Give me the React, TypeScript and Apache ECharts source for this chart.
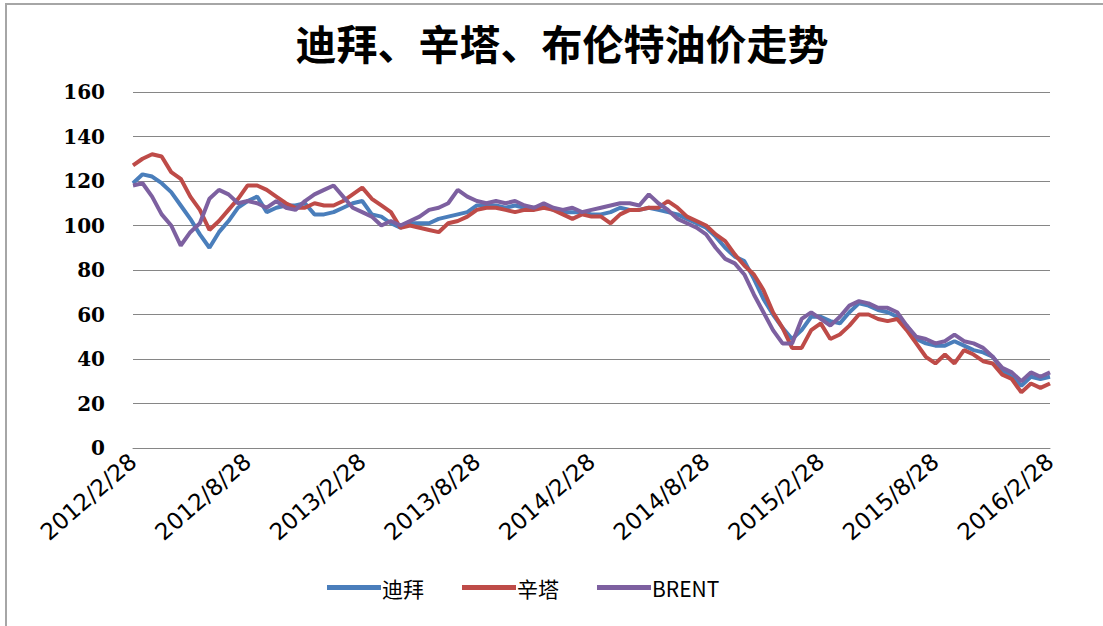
import React, { useEffect, useRef } from "react";
import * as echarts from "echarts";

const TITLE = "迪拜、辛塔、布伦特油价走势";
const SERIES_NAMES = ["迪拜", "辛塔", "BRENT"];
const TICK_LABELS = [
  "2012/2/28", "2012/8/28", "2013/2/28", "2013/8/28", "2014/2/28",
  "2014/8/28", "2015/2/28", "2015/8/28", "2016/2/28",
];
// half-month sampling between tick labels (12 points per 6 months)
const POINTS_PER_TICK = 12;
const Y_TICKS = [0, 20, 40, 60, 80, 100, 120, 140, 160];

const dubai = [
  119, 123, 122, 119, 115, 109, 103, 96, 90, 97, 102, 108,
  111, 113, 106, 108, 109, 109, 110, 105, 105, 106, 108, 110,
  111, 105, 104, 101, 99, 101, 101, 101, 103, 104, 105, 106,
  109, 109, 109, 108, 109, 108, 108, 109, 107, 106, 106, 106,
  105, 105, 106, 108, 107, 107, 108, 107, 106, 105, 103, 101,
  99, 95, 90, 86, 84, 76, 67, 60, 54, 49, 53, 59,
  59, 57, 56, 61, 65, 64, 62, 61, 59, 55, 49, 47,
  46, 46, 48, 46, 44, 43, 41, 35, 32, 28, 32, 31,
  32,
];
const cinta = [
  127, 130, 132, 131, 124, 121, 113, 107, 98, 102, 107, 112,
  118, 118, 116, 113, 110, 108, 108, 110, 109, 109, 111, 114,
  117, 112, 109, 106, 99, 100, 99, 98, 97, 101, 102, 104,
  107, 108, 108, 107, 106, 107, 107, 108, 107, 105, 103, 105,
  104, 104, 101, 105, 107, 107, 108, 108, 111, 108, 104, 102,
  100, 96, 93, 87, 82, 78, 71, 61, 54, 45, 45, 53,
  56, 49, 51, 55, 60, 60, 58, 57, 58, 53, 47, 41,
  38, 42, 38, 44, 42, 39, 38, 33, 31, 25, 29, 27,
  29,
];
const brent = [
  118, 119, 113, 105, 100, 91, 97, 101, 112, 116, 114, 110,
  111, 110, 108, 111, 108, 107, 111, 114, 116, 118, 113, 108,
  106, 104, 100, 102, 100, 102, 104, 107, 108, 110, 116, 113,
  111, 110, 111, 110, 111, 109, 108, 110, 108, 107, 108, 106,
  107, 108, 109, 110, 110, 109, 114, 110, 107, 103, 101, 99,
  96, 90, 85, 83, 78, 69, 61, 53, 47, 47, 58, 61,
  58, 55, 59, 64, 66, 65, 63, 63, 61, 55, 50, 49,
  47, 48, 51, 48, 47, 45, 41, 36, 34, 30, 34, 32,
  34,
];

const COLORS = ["#4a7ebb", "#be4b48", "#7d60a0"];

function buildCategories(): string[] {
  const cats: string[] = [];
  for (let t = 0; t < TICK_LABELS.length; t++) {
    cats.push(TICK_LABELS[t]);
    if (t === TICK_LABELS.length - 1) break;
    for (let k = 1; k < POINTS_PER_TICK; k++) cats.push(TICK_LABELS[t] + "+" + k);
  }
  return cats;
}

export default function App() {
  const ref = useRef<HTMLDivElement>(null);
  useEffect(() => {
    if (!ref.current) return;
    const chart = echarts.init(ref.current, undefined, { renderer: "svg" });
    const categories = buildCategories();
    const data = [dubai, cinta, brent];
    chart.setOption({
      animation: false,
      backgroundColor: "#ffffff",
      title: {
        text: TITLE,
        left: 557,
        top: 16,
        textAlign: "center",
        textStyle: {
          fontFamily: "Noto Sans CJK SC",
          fontWeight: "bold",
          fontSize: 41,
          color: "#000000",
        },
      },
      graphic: [
        {
          type: "rect",
          shape: { x: 6, y: 4, width: 1120, height: 640 },
          style: { fill: "none", stroke: "#a6a6a6", lineWidth: 2 },
          silent: true,
        },
      ],
      legend: {
        left: 322,
        top: 572,
        itemWidth: 54,
        itemHeight: 5,
        itemGap: 38,
        icon: "rect",
        textStyle: {
          fontFamily: "Noto Sans CJK SC",
          fontSize: 21,
          color: "#000000",
          padding: [0, 0, 0, -4],
        },
        data: SERIES_NAMES,
      },
      grid: { left: 133, right: 53, top: 92, bottom: 178, containLabel: false },
      xAxis: {
        type: "category",
        data: categories,
        boundaryGap: false,
        axisLine: { lineStyle: { color: "#868686", width: 1 } },
        axisTick: { show: false },
        axisLabel: {
          interval: POINTS_PER_TICK - 1,
          rotate: 41,
          margin: 10,
          fontFamily: "DejaVu Sans",
          fontSize: 23,
          color: "#000000",
          formatter: (v: string) => (v.indexOf("+") >= 0 ? "" : v),
        },
        splitLine: { show: false },
      },
      yAxis: {
        type: "value",
        min: Y_TICKS[0],
        max: Y_TICKS[Y_TICKS.length - 1],
        interval: 20,
        axisLine: { show: false },
        axisTick: { show: false },
        axisLabel: {
          margin: 28,
          fontFamily: "DejaVu Serif",
          fontWeight: "bold",
          fontSize: 20,
          color: "#000000",
        },
        splitLine: { lineStyle: { color: "#868686", width: 1 } },
      },
      series: SERIES_NAMES.map((name, i) => ({
        name,
        type: "line",
        data: data[i],
        symbol: "none",
        smooth: false,
        lineStyle: { color: COLORS[i], width: 4 },
        itemStyle: { color: COLORS[i] },
        z: 2 + i,
      })),
    });
    return () => chart.dispose();
  }, []);
  return (
    <div
      ref={ref}
      style={{ position: "absolute", left: 0, top: 0, width: 1103, height: 626 }}
    />
  );
}
